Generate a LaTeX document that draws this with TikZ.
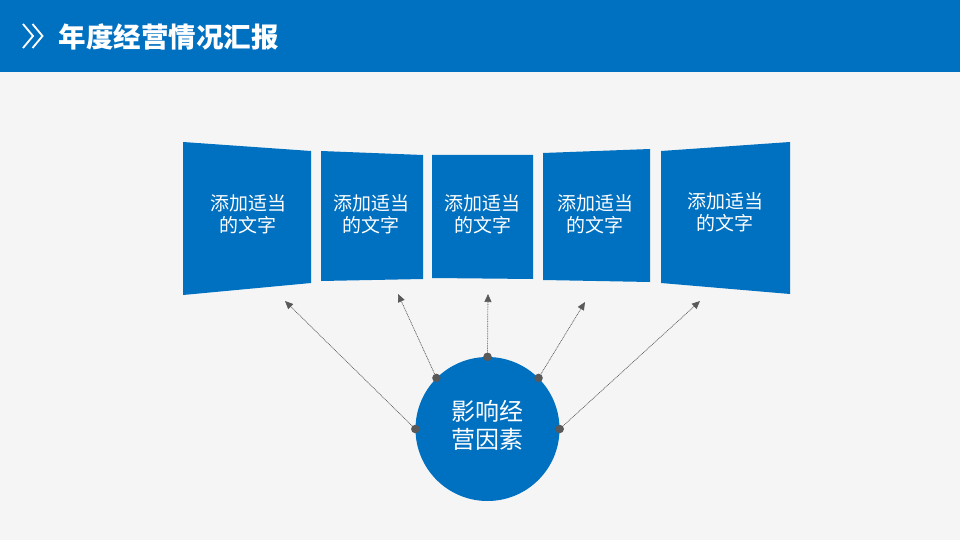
\documentclass[tikz,border=0pt]{standalone}
\usepackage{fontspec}
\setmainfont{Noto Sans CJK SC}
\usepackage{tikz}
\usetikzlibrary{arrows.meta}
\definecolor{mainblue}{RGB}{0,112,192}
\definecolor{bggray}{RGB}{245,245,245}
\definecolor{dotgray}{RGB}{89,89,89}

\begin{document}
\begin{tikzpicture}[x=1pt,y=-1pt,>={Triangle[length=8pt,width=7pt]},auto]
		\tikzstyle{panel}=[fill=mainblue];
		\tikzstyle{paneltext}=[text=white,align=center,font=\fontsize{19}{22}\selectfont];
		\tikzstyle{factor}=[circle,fill=mainblue,minimum size=144pt,inner sep=0pt];
		\tikzstyle{factortext}=[text=white,align=center,font=\fontsize{24}{28.5}\selectfont];
		\tikzstyle{dot}=[circle,fill=dotgray,inner sep=0pt,minimum size=8.5pt];
		\tikzstyle{link}=[->,densely dotted,draw=dotgray,fill=dotgray,line width=0.7pt];
		\useasboundingbox(0,0)rectangle(960,540);
		\fill[bggray](0,0)rectangle(960,540);
		\fill[mainblue](0,0)rectangle(960,72);
		\draw[white,line width=1.8pt](23,24)--(33,36)--(23,48)(32.5,24)--(42.5,36)--(32.5,48);
		\node[anchor=west,text=white,font=\fontsize{27.5}{30}\selectfont\bfseries](title)at(55,37){年度经营情况汇报};

		% panels
		\fill[panel](183,142)--(311,151)--(311,283)--(183,295)--cycle;
		\fill[panel](321,151)--(423,155)--(423,279)--(321,281)--cycle;
		\fill[panel](432,155)--(533,155)--(533,279)--(432,278)--cycle;
		\fill[panel](543,153)--(650,149)--(650,282)--(543,280)--cycle;
		\fill[panel](661,151)--(790,142)--(790,294)--(661,283)--cycle;
		\node[paneltext](p1)at(248,214){添加适当\\的文字};
		\node[paneltext](p2)at(371,214.5){添加适当\\的文字};
		\node[paneltext](p3)at(482.5,214){添加适当\\的文字};
		\node[paneltext](p4)at(595,214){添加适当\\的文字};
		\node[paneltext](p5)at(725,212.5){添加适当\\的文字};

		% factor circle
		\node[factor](c)at(487.5,429){};
		\node[factortext](ct)at(487.5,425.5){影响经\\营因素};
		\node[dot](d1)at(c.180){};
		\node[dot](d2)at(c.135){};
		\node[dot](d3)at(c.90){};
		\node[dot](d4)at(c.45){};
		\node[dot](d5)at(c.0){};
		\coordinate(a1)at(285,301);
		\coordinate(a2)at(398,294);
		\coordinate(a3)at(488,294);
		\coordinate(a4)at(585,302);
		\coordinate(a5)at(700,301);
		\draw[link](d1)--(a1);
		\draw[link](d2)--(a2);
		\draw[link](d3)--(a3);
		\draw[link](d4)--(a4);
		\draw[link](d5)--(a5);
	\end{tikzpicture}
\end{document}
